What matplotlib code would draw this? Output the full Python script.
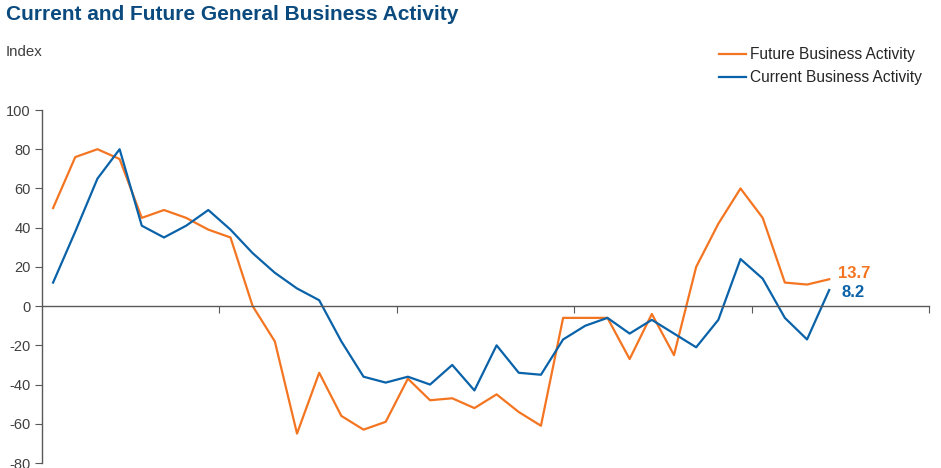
import matplotlib
matplotlib.use("Agg")
import matplotlib.pyplot as plt
import numpy as np

plt.rcParams['font.family'] = ['Liberation Sans', 'DejaVu Sans']
plt.rcParams['axes.unicode_minus'] = False

future = [50, 76, 80, 75, 45, 49, 45, 39, 35, 0, -18, -65, -34, -56, -63, -59,
          -37, -48, -47, -52, -45, -54, -61, -6, -6, -6, -27, -4, -25, 20, 42, 60,
          45, 12, 11, 13.7]
current = [12, 38, 65, 80, 41, 35, 41, 49, 39, 27, 17, 9, 3, -18, -36, -39,
           -36, -40, -30, -43, -20, -34, -35, -17, -10, -6, -14, -7, -14, -21, -7, 24,
           14, -6, -17, 8.2]
n_slots = 40
yticks = [-80, -60, -40, -20, 0, 20, 40, 60, 80, 100]

orange = '#F47521'
blue = '#0A62A9'
gray = '#595959'
title_c = '#0B4A7E'

fig = plt.figure(figsize=(9.41, 4.68), dpi=100)
ax = fig.add_axes([42/941, 1-463/468, (929-42)/941, (463-110)/468])

x = np.arange(len(future)) + 0.5
ax.plot(x, future, color=orange, lw=1.6, label='Future Business Activity')
ax.plot(x, current, color=blue, lw=1.6, label='Current Business Activity')

ax.set_xlim(0, n_slots)
ax.set_ylim(-80, 100)
ax.set_yticks(yticks)
ax.set_xticks(np.arange(8, n_slots + 1, 8))
ax.set_xticklabels([])

for s in ['top', 'right']:
    ax.spines[s].set_visible(False)
ax.spines['bottom'].set_position(('data', 0))
for s in ['left', 'bottom']:
    ax.spines[s].set_color(gray)
    ax.spines[s].set_linewidth(1.0)
ax.tick_params(axis='y', direction='out', length=5, color=gray, labelsize=10.5,
               labelcolor='#404040', pad=3)
ax.tick_params(axis='x', direction='out', length=5, color=gray)

ax.annotate(f'{future[-1]:.1f}', xy=(x[-1], future[-1]), xytext=(6, 4),
            textcoords='offset points', color=orange, fontsize=12, fontweight='bold',
            va='center', ha='left')
ax.annotate(f'{current[-1]:.1f}', xy=(x[-1], current[-1]), xytext=(9, -2),
            textcoords='offset points', color=blue, fontsize=12, fontweight='bold',
            va='center', ha='left')

fig.text(6/941, 1-15/468, 'Current and Future General Business Activity', color=title_c,
         fontsize=15, fontweight='bold', va='center', ha='left')
fig.text(6/941, 1-52/468, 'Index', color='#404040', fontsize=10.8, va='center', ha='left')

leg = fig.legend(loc='upper right', bbox_to_anchor=(922/941, 1-47/468), frameon=False,
                 fontsize=11.2, handlelength=1.75, handletextpad=0.28, labelspacing=0.52,
                 borderaxespad=0, borderpad=0)
for t in leg.get_texts():
    t.set_color('#262626')

fig.savefig('out.png', dpi=100)
